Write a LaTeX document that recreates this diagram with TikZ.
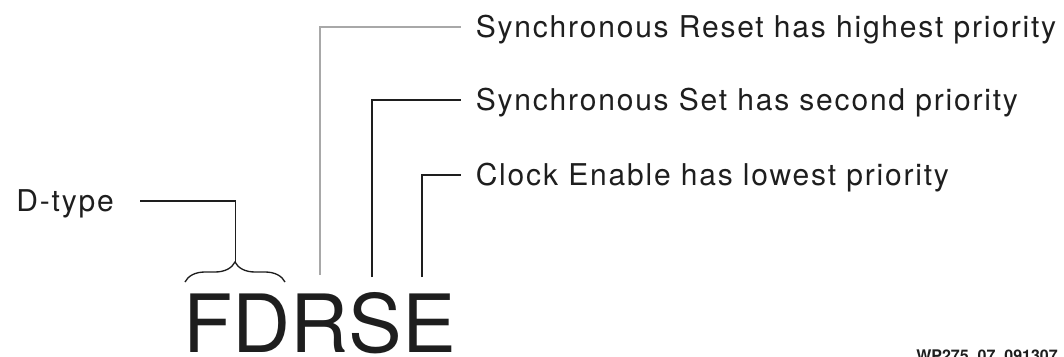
\documentclass[tikz,border=0pt]{standalone}
\usepackage{fontspec}
\setmainfont{TeX Gyre Heros}
\newfontfamily\lblfont[LetterSpace=6]{TeX Gyre Heros}
\usetikzlibrary{decorations.pathreplacing}
\definecolor{ink}{HTML}{1E1E1E}
\definecolor{lightline}{HTML}{A8A8A8}
\begin{document}
\begin{tikzpicture}[x=0.75pt,y=-0.75pt,
  lbl/.style={font=\lblfont\fontsize{22.5pt}{27pt}\selectfont, text=ink,
    inner xsep=10.9pt, inner ysep=0pt, text height=16.2pt, text depth=0pt},
  big/.style={font=\fontsize{60.3pt}{72pt}\selectfont, text=ink, inner sep=0pt, anchor=base west},
  wire/.style={draw=ink, line width=1pt},
  greywire/.style={draw=lightline, line width=1.4pt},
  bracestyle/.style={draw=ink, line width=1pt,
    decorate, decoration={brace, amplitude=15pt, aspect=0.5}},
  wmark/.style={font=\bfseries\fontsize{12pt}{14pt}\selectfont, text=ink, inner sep=0pt, anchor=base east}]
\useasboundingbox (0,0) rectangle (1064,357);

% main word
\node[big] (word) at (183,352.7) {FDRSE};

% labels
\node[lbl, anchor=west] (lblR) at (461,27) {Synchronous Reset has highest priority};
\node[lbl, anchor=west] (lblS) at (461,100) {Synchronous Set has second priority};
\node[lbl, anchor=west] (lblE) at (461,175) {Clock Enable has lowest priority};
\node[lbl, anchor=east, inner xsep=19.5pt] (lblD) at (140,201) {D-type};

% connector feet above letters
\coordinate (cR) at (320,275);
\coordinate (cS) at (372,277);
\coordinate (cE) at (422,277);

% brace over F and D
\coordinate (bL) at (185,282);
\coordinate (bR) at (285,282);
\coordinate (tip) at (235.5,262);
\draw[bracestyle] (bL) -- (bR);

% connectors
\draw[greywire] (cR) |- (lblR.west);
\draw[wire] (cS) |- (lblS.west);
\draw[wire] (cE) |- (lblE.west);
\draw[wire] (lblD.east) -| (tip);

% figure id
\node[wmark] (wm) at (1058,361) {WP275\_07\_091307};
\end{tikzpicture}
\end{document}
